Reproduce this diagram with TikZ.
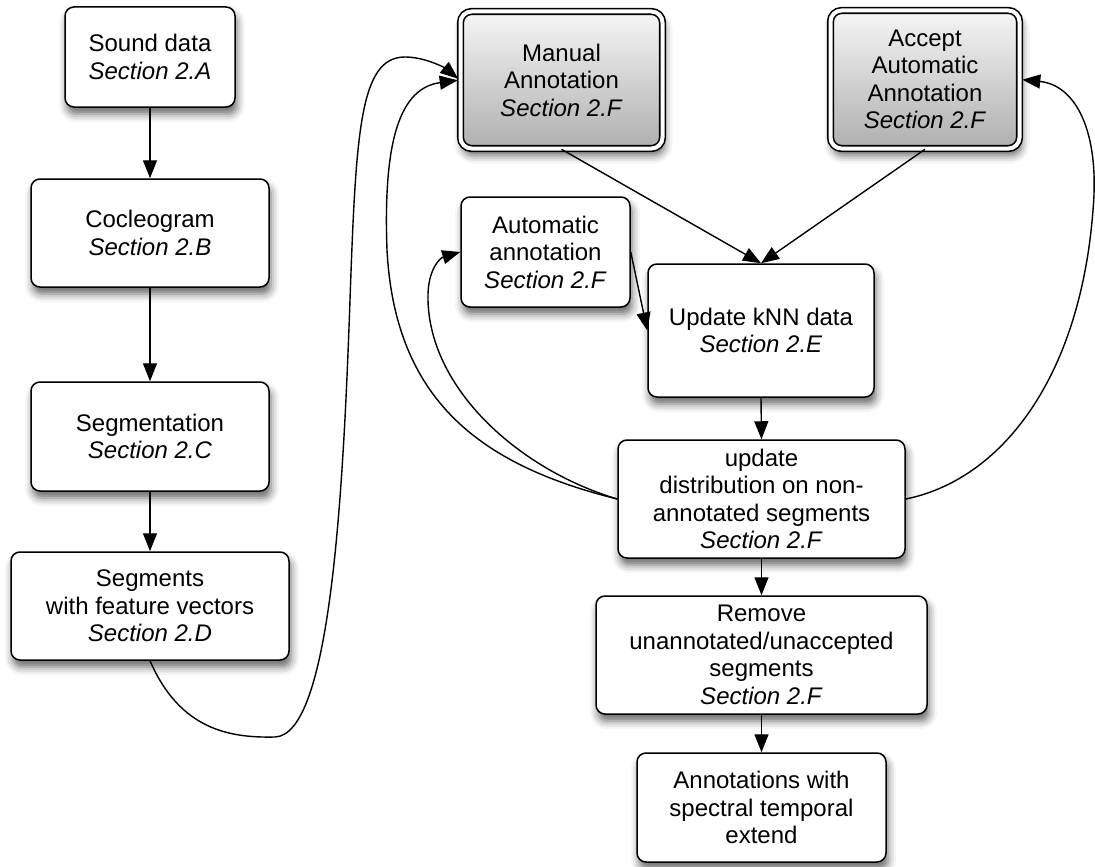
\documentclass[tikz,border=0pt]{standalone}
\usepackage{fontspec}
\setmainfont{Liberation Sans}
\usetikzlibrary{arrows.meta,shadows.blur,calc}
\definecolor{shadetop}{RGB}{246,246,246}
\definecolor{shadebot}{RGB}{175,175,175}
\begin{document}
\begin{tikzpicture}[x=1pt,y=-1pt,
  box/.style={draw, line width=1.5pt, rounded corners=9pt, fill=white, inner sep=0pt,
    align=center, font=\fontsize{24}{27.5}\selectfont,
    blur shadow={shadow xshift=2pt, shadow yshift=-7pt, shadow blur radius=8pt, shadow opacity=60}},
  dbox/.style={box, rounded corners=11pt, double, double distance=4pt, line width=1.6pt,
    top color=shadetop, bottom color=shadebot},
  arr/.style={line width=1.4pt, -{Triangle[length=18pt,width=14pt]}},
  carr/.style={line width=1.4pt, -{Triangle[length=18pt,width=14pt]}, shorten >=2pt}]
\useasboundingbox (0,0) rectangle (1095,867);

\node[box, minimum width=170pt, minimum height=100pt] (sound) at (150,57) {Sound data\\\textit{Section 2.A}};
\node[box, minimum width=238pt, minimum height=108pt] (coch) at (150,233) {Cocleogram\\\textit{Section 2.B}};
\node[box, minimum width=238pt, minimum height=109pt] (seg) at (150,436.5) {Segmentation\\\textit{Section 2.C}};
\node[box, minimum width=278pt, minimum height=108pt] (segs) at (150,606) {Segments\\with feature vectors\\\textit{Section 2.D}};
\node[dbox, minimum width=202pt, minimum height=137pt] (manual) at (561.5,80) {Manual\\Annotation\\\textit{Section 2.F}};
\node[dbox, minimum width=189pt, minimum height=138pt] (accept) at (925,79.5) {Accept\\Automatic\\Annotation\\\textit{Section 2.F}};
\node[box, minimum width=169pt, minimum height=110pt] (auto) at (545.5,252) {Automatic\\annotation\\\textit{Section 2.F}};
\node[box, minimum width=226pt, minimum height=133pt] (knn) at (761,330.5) {Update kNN data\\\textit{Section 2.E}};
\node[box, minimum width=287pt, minimum height=118pt] (dist) at (761.5,499) {update\\distribution on non-\\annotated segments\\\textit{Section 2.F}};
\node[box, minimum width=331pt, minimum height=118pt] (remove) at (761.5,655) {Remove\\unannotated/unaccepted\\segments\\\textit{Section 2.F}};
\node[box, minimum width=249pt, minimum height=109pt] (annot) at (761.5,807.5) {Annotations with\\spectral temporal\\extend};

\draw[arr] (sound.south) -- (coch.north);
\draw[arr] (coch.south) -- (seg.north);
\draw[arr] (seg.south) -- (segs.north);
\draw[arr] (knn.south) -- (dist.north);
\draw[arr] (dist.south) -- (remove.north);
\draw[arr] (remove.south) -- (annot.north);
\draw[arr] (auto.east) -- (knn.west);
\draw[arr] (manual.south) -- (knn.north);
\draw[arr] (accept.south) -- (knn.north);

% Segments -> Manual Annotation
\draw[carr] (segs.south) .. controls (180,730) and (230,738) .. (275,737)
  .. controls (330,735) and (343,500) .. (350,300)
  .. controls (356,130) and (360,57) .. (405,57)
  .. controls (425,57) and (445,68) .. (manual.west);
% distribution -> Manual Annotation
\draw[carr] (dist.west) .. controls (480,465) and (395,400) .. (387,250)
  .. controls (383,140) and (400,88) .. (manual.west);
% distribution -> Automatic annotation
\draw[arr] (dist.west) .. controls (520,470) and (430,390) .. (428,300)
  .. controls (427,270) and (440,258) .. (auto.west);
% distribution -> Accept
\draw[carr] (dist.east) .. controls (1000,480) and (1080,380) .. (1093,210)
  .. controls (1100,130) and (1075,85) .. (accept.east);
\end{tikzpicture}
\end{document}
